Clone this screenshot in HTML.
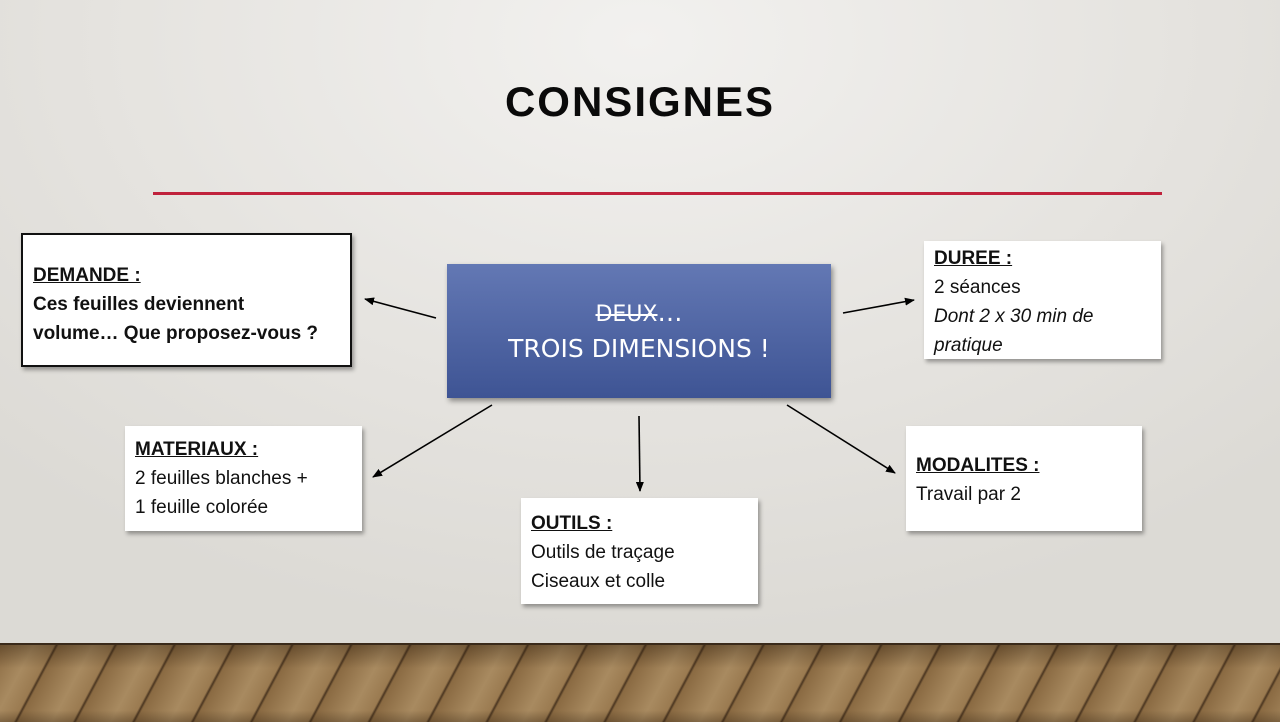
<!DOCTYPE html>
<html><head><meta charset="utf-8"><style>
body{margin:0;width:1280px;height:720px;overflow:hidden;position:relative;font-family:"Liberation Sans","DejaVu Sans",sans-serif;
background:radial-gradient(ellipse 900px 600px at 640px 40px,#f2f1ef 0%,#e5e3df 60%,#dcdad5 100%);}
.floor{position:absolute;left:0;top:643px;width:1280px;height:77px;border-top:2px solid #3a2a1a;
background:repeating-linear-gradient(118deg,#8a6a42 0px,#a88a60 30px,#9a7a50 48px,#4a3520 50px,#8a6a42 52px);}
.floor:after{content:"";position:absolute;inset:0;background:linear-gradient(180deg,rgba(40,25,10,.35),rgba(0,0,0,0) 30%,rgba(0,0,0,0) 85%,rgba(40,25,10,.3));}
h1{position:absolute;top:78px;left:0;width:1280px;text-align:center;margin:0;font-size:42px;font-weight:bold;letter-spacing:2px;color:#0a0a0a;}
.rule{position:absolute;left:153px;top:192px;width:1009px;height:3px;background:#c0223c;}
.box{position:absolute;background:#fff;box-shadow:2px 3px 4px rgba(0,0,0,.35);font-size:19px;line-height:29px;color:#111;padding:8px 10px;box-sizing:border-box;}
.box u{font-weight:bold;}
.center{position:absolute;left:447px;top:264px;width:384px;height:134px;background:linear-gradient(#6378b4,#3e5494);box-shadow:2px 3px 5px rgba(0,0,0,.4);color:#fff;text-align:center;font-family:"DejaVu Sans",sans-serif;font-size:25px;line-height:34px;padding-top:32px;box-sizing:border-box;}
svg{position:absolute;left:0;top:0}
</style></head><body>
<h1>CONSIGNES</h1>
<div class="rule"></div>
<div class="box" style="left:21px;top:233px;width:331px;height:134px;border:2px solid #111;padding-top:26px;font-weight:bold"><u>DEMANDE :</u><br>Ces feuilles deviennent<br>volume… Que proposez-vous ?</div>
<div class="center"><s style="font-size:22px">DEUX</s>…<br>TROIS DIMENSIONS !</div>
<div class="box" style="left:924px;top:241px;width:237px;height:118px;padding-top:3px"><u>DUREE :</u><br>2 séances<br><i>Dont 2 x 30 min de pratique</i></div>
<div class="box" style="left:125px;top:426px;width:237px;height:105px;padding-top:9px"><u>MATERIAUX :</u><br>2 feuilles blanches +<br>1 feuille colorée</div>
<div class="box" style="left:521px;top:498px;width:237px;height:106px;padding-top:11px"><u>OUTILS :</u><br>Outils de traçage<br>Ciseaux et colle</div>
<div class="box" style="left:906px;top:426px;width:236px;height:105px;padding-top:25px"><u>MODALITES :</u><br>Travail par 2</div>
<svg width="1280" height="720"><defs><marker id="a" markerWidth="10" markerHeight="8" refX="9" refY="4" orient="auto" markerUnits="userSpaceOnUse"><path d="M0,0L10,4L0,8z" fill="#000"/></marker></defs>
<g stroke="#000" stroke-width="1.6" marker-end="url(#a)">
<line x1="436" y1="318" x2="365" y2="299"/>
<line x1="843" y1="313" x2="914" y2="300"/>
<line x1="492" y1="405" x2="373" y2="477"/>
<line x1="639" y1="416" x2="640" y2="491"/>
<line x1="787" y1="405" x2="895" y2="473"/>
</g></svg>
<div class="floor"></div>
</body></html>
